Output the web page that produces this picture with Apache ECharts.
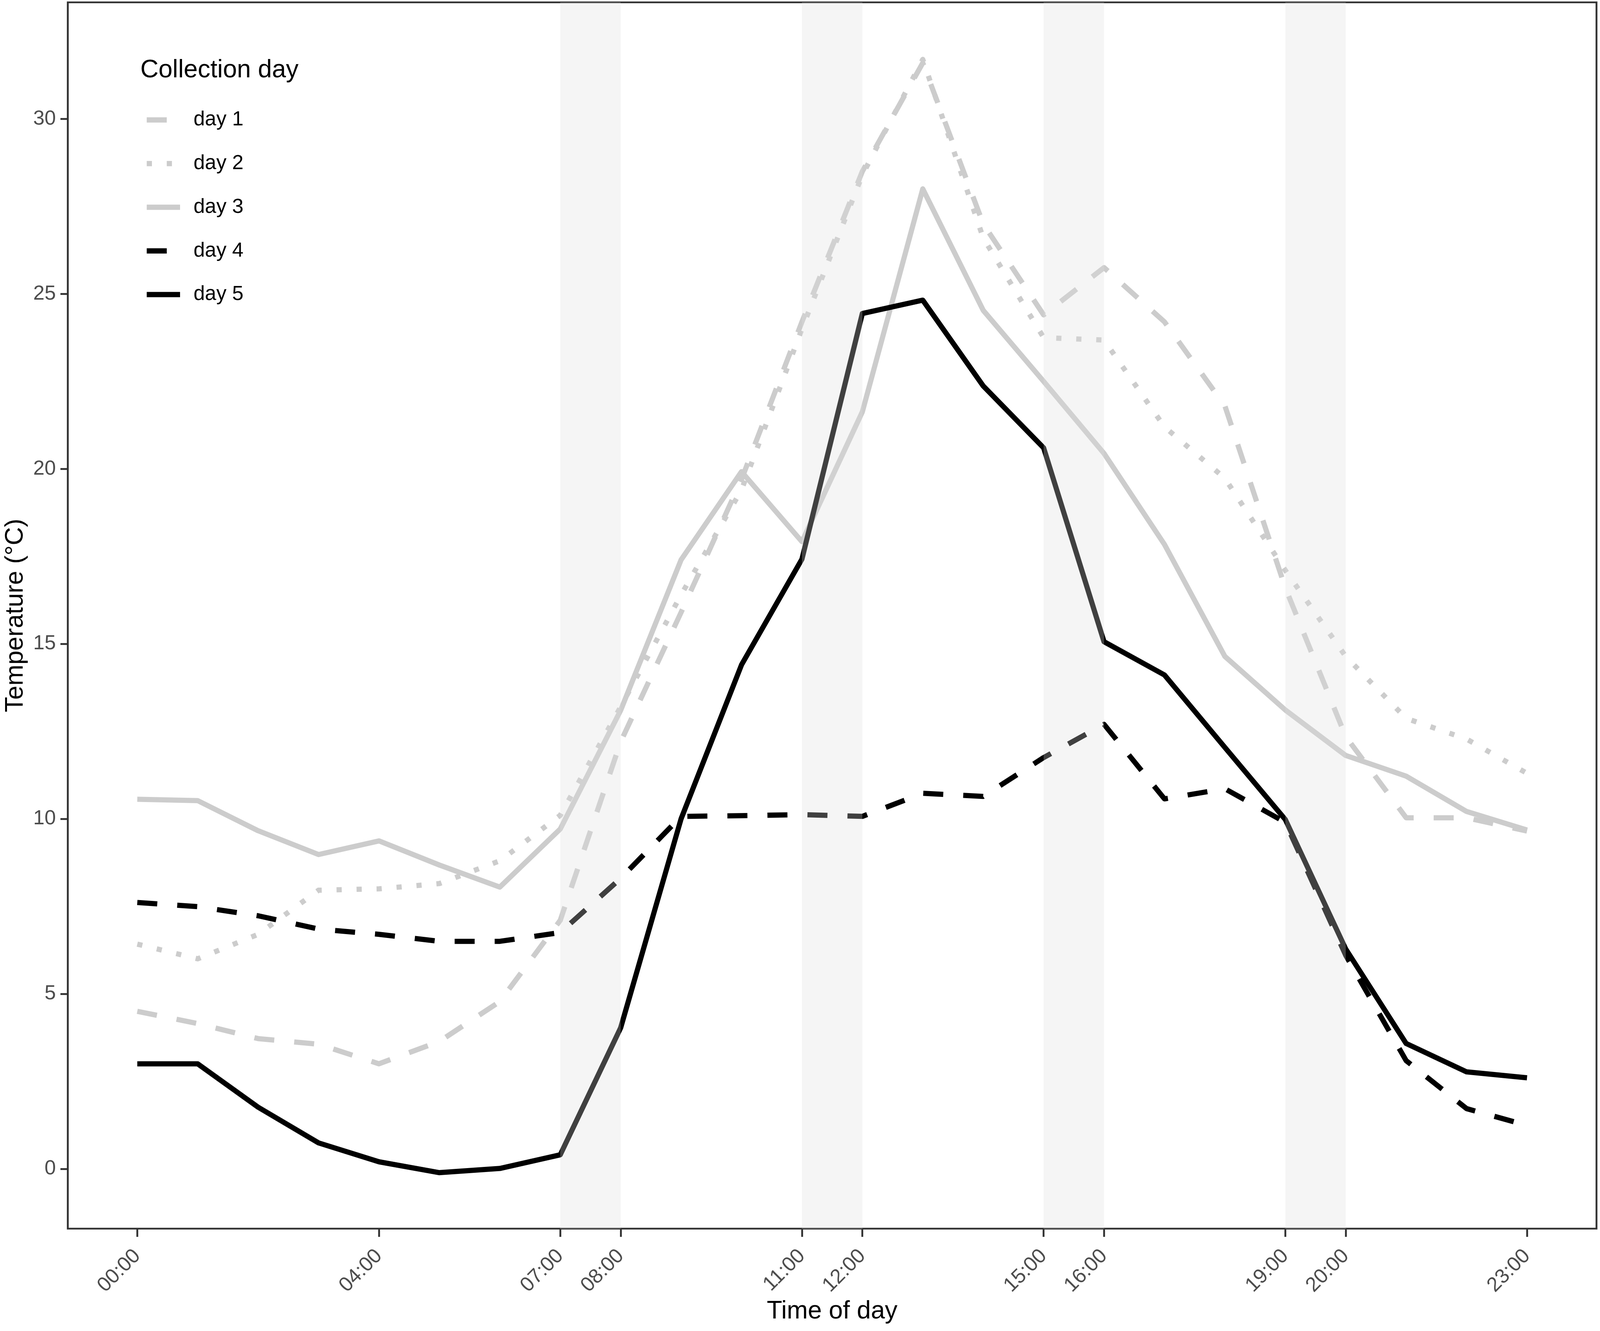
<!DOCTYPE html>
<html>
<head>
<meta charset="utf-8">
<script src="https://cdn.jsdelivr.net/npm/echarts@6/dist/echarts.min.js"></script>
<style>
html,body{margin:0;padding:0;background:#fff;overflow:hidden;}
#chart{width:100vw;height:100vh;}
</style>
</head>
<body>
<div id="chart"></div>
<script>
const hours = [0,1,2,3,4,5,6,7,8,9,10,11,12,13,14,15,16,17,18,19,20,21,22,23];
const day1 = [4.5, 4.15, 3.72, 3.56, 3.0, 3.64, 4.78, 7.1, 12.2, 15.9, 19.7, 24.2, 28.5, 31.6, 27.0, 24.4, 25.75, 24.2, 21.8, 16.6, 12.35, 10.03, 10.03, 9.65];
const day2 = [6.42, 6.0, 6.7, 7.96, 8.0, 8.15, 8.8, 10.1, 13.2, 16.4, 19.4, 24.0, 28.4, 31.7, 26.6, 23.75, 23.68, 21.2, 19.73, 17.1, 14.64, 12.87, 12.28, 11.3];
const day3 = [10.56, 10.52, 9.66, 8.98, 9.37, 8.68, 8.05, 9.71, 13.1, 17.4, 19.92, 17.92, 21.63, 28.0, 24.53, 22.5, 20.44, 17.84, 14.64, 13.11, 11.81, 11.22, 10.21, 9.68];
const day4 = [7.61, 7.49, 7.23, 6.85, 6.7, 6.5, 6.5, 6.75, 8.3, 10.07, 10.09, 10.12, 10.07, 10.73, 10.64, 11.75, 12.7, 10.57, 10.86, 9.9, 6.1, 3.09, 1.72, 1.24];
const day5 = [3.0, 3.0, 1.76, 0.74, 0.2, -0.11, 0.01, 0.40, 4.03, 10.0, 14.4, 17.42, 24.44, 24.82, 22.37, 20.6, 15.06, 14.11, 12.04, 9.98, 6.28, 3.58, 2.77, 2.6];
const seriesNames = ['day 1','day 2','day 3','day 4','day 5'];
const xTickHours = [0,4,7,8,11,12,15,16,19,20,23];
const yTicks = [0,5,10,15,20,25,30];
const bands = [[7,8],[11,12],[15,16],[19,20]];

const el = document.getElementById('chart');
const W = el.clientWidth || window.innerWidth;
const H = el.clientHeight || window.innerHeight;
const sx = W / 4562, sy = H / 3407, sf = (sx + sy) / 2;
const X = v => v * sx, Y = v => v * sy, F = v => v * sf;

const LIGHT = '#cccccc', DARK = '#000000';
const DASH = [F(54), F(54)], DOT = [F(14), F(40)];
const styles = [
  {color: LIGHT, type: DASH},
  {color: LIGHT, type: DOT},
  {color: LIGHT, type: 'solid'},
  {color: DARK, type: DASH},
  {color: DARK, type: 'solid'}
];
const allData = [day1, day2, day3, day4, day5];
const FONT = '"Liberation Sans", Arial, Helvetica, sans-serif';
const LW = F(14);

const chart = echarts.init(el, null, {renderer: 'canvas'});

const lineSeries = allData.map((d, i) => ({
  name: seriesNames[i],
  type: 'line',
  data: hours.map((h, j) => [h, d[j]]),
  symbol: 'none',
  z: 2,
  lineStyle: {color: styles[i].color, width: LW, type: styles[i].type, cap: 'butt', join: 'round'},
  itemStyle: {color: styles[i].color},
  emphasis: {disabled: true},
  animation: false
}));

const bandSeries = {
  type: 'custom',
  z: 10,
  silent: true,
  animation: false,
  data: bands,
  renderItem: function (params, api) {
    const cs = params.coordSys;
    const x0 = api.coord([api.value(0), 0])[0];
    const x1 = api.coord([api.value(1), 0])[0];
    return {
      type: 'rect',
      shape: {x: x0, y: cs.y, width: x1 - x0, height: cs.height},
      style: {fill: 'rgba(220,220,220,0.29)'}
    };
  },
  encode: {x: [0, 1]}
};

const pad2 = v => (v < 10 ? '0' : '') + v + ':00';

chart.setOption({
  backgroundColor: '#ffffff',
  animation: false,
  textStyle: {fontFamily: FONT},
  title: {
    text: 'Collection day',
    left: X(400),
    top: Y(148),
    padding: 0,
    textStyle: {fontSize: F(68), fontWeight: 'normal', color: '#000', fontFamily: FONT}
  },
  legend: {
    orient: 'vertical',
    left: X(411),
    top: Y(309 - 28),
    padding: 0,
    itemWidth: X(95),
    itemHeight: Y(56),
    itemGap: Y(110.75 - 56 + 5),
    selectedMode: false,
    itemStyle: {opacity: 0},
    textStyle: {fontSize: F(55), color: '#000', fontFamily: FONT, padding: [0, 0, 0, X(33)]},
    data: seriesNames.map((n, i) => ({
      name: n,
      lineStyle: {color: styles[i].color, width: LW, type: styles[i].type, cap: 'butt'},
      itemStyle: {opacity: 0}
    }))
  },
  grid: {
    left: X(185), right: X(10), top: Y(6), bottom: Y(262),
    show: true, borderColor: '#333333', borderWidth: F(5), backgroundColor: 'transparent',
    containLabel: false
  },
  xAxis: {
    type: 'value',
    min: -1.15,
    max: 24.15,
    splitLine: {show: false},
    axisLine: {show: false, onZero: false},
    axisTick: {show: true, customValues: xTickHours, length: Y(21), lineStyle: {color: '#333333', width: F(5)}},
    axisLabel: {
      customValues: xTickHours,
      rotate: 45,
      margin: Y(62),
      fontSize: F(55),
      color: '#4d4d4d',
      fontFamily: FONT,
      formatter: v => pad2(v)
    },
    name: 'Time of day',
    nameLocation: 'middle',
    nameGap: Y(175),
    nameTextStyle: {fontSize: F(68), color: '#000', fontFamily: FONT}
  },
  yAxis: {
    type: 'value',
    min: -1.71,
    max: 33.33,
    splitLine: {show: false},
    axisLine: {show: false, onZero: false},
    axisTick: {show: true, customValues: yTicks, length: X(21), lineStyle: {color: '#333333', width: F(5)}},
    axisLabel: {
      customValues: yTicks,
      margin: X(34),
      fontSize: F(55),
      color: '#4d4d4d',
      fontFamily: FONT
    },
    name: 'Temperature (°C)',
    nameLocation: 'middle',
    nameGap: X(112),
    nameRotate: 90,
    nameTextStyle: {fontSize: F(68), color: '#000', fontFamily: FONT}
  },
  series: lineSeries.concat([bandSeries])
});
</script>
</body>
</html>
